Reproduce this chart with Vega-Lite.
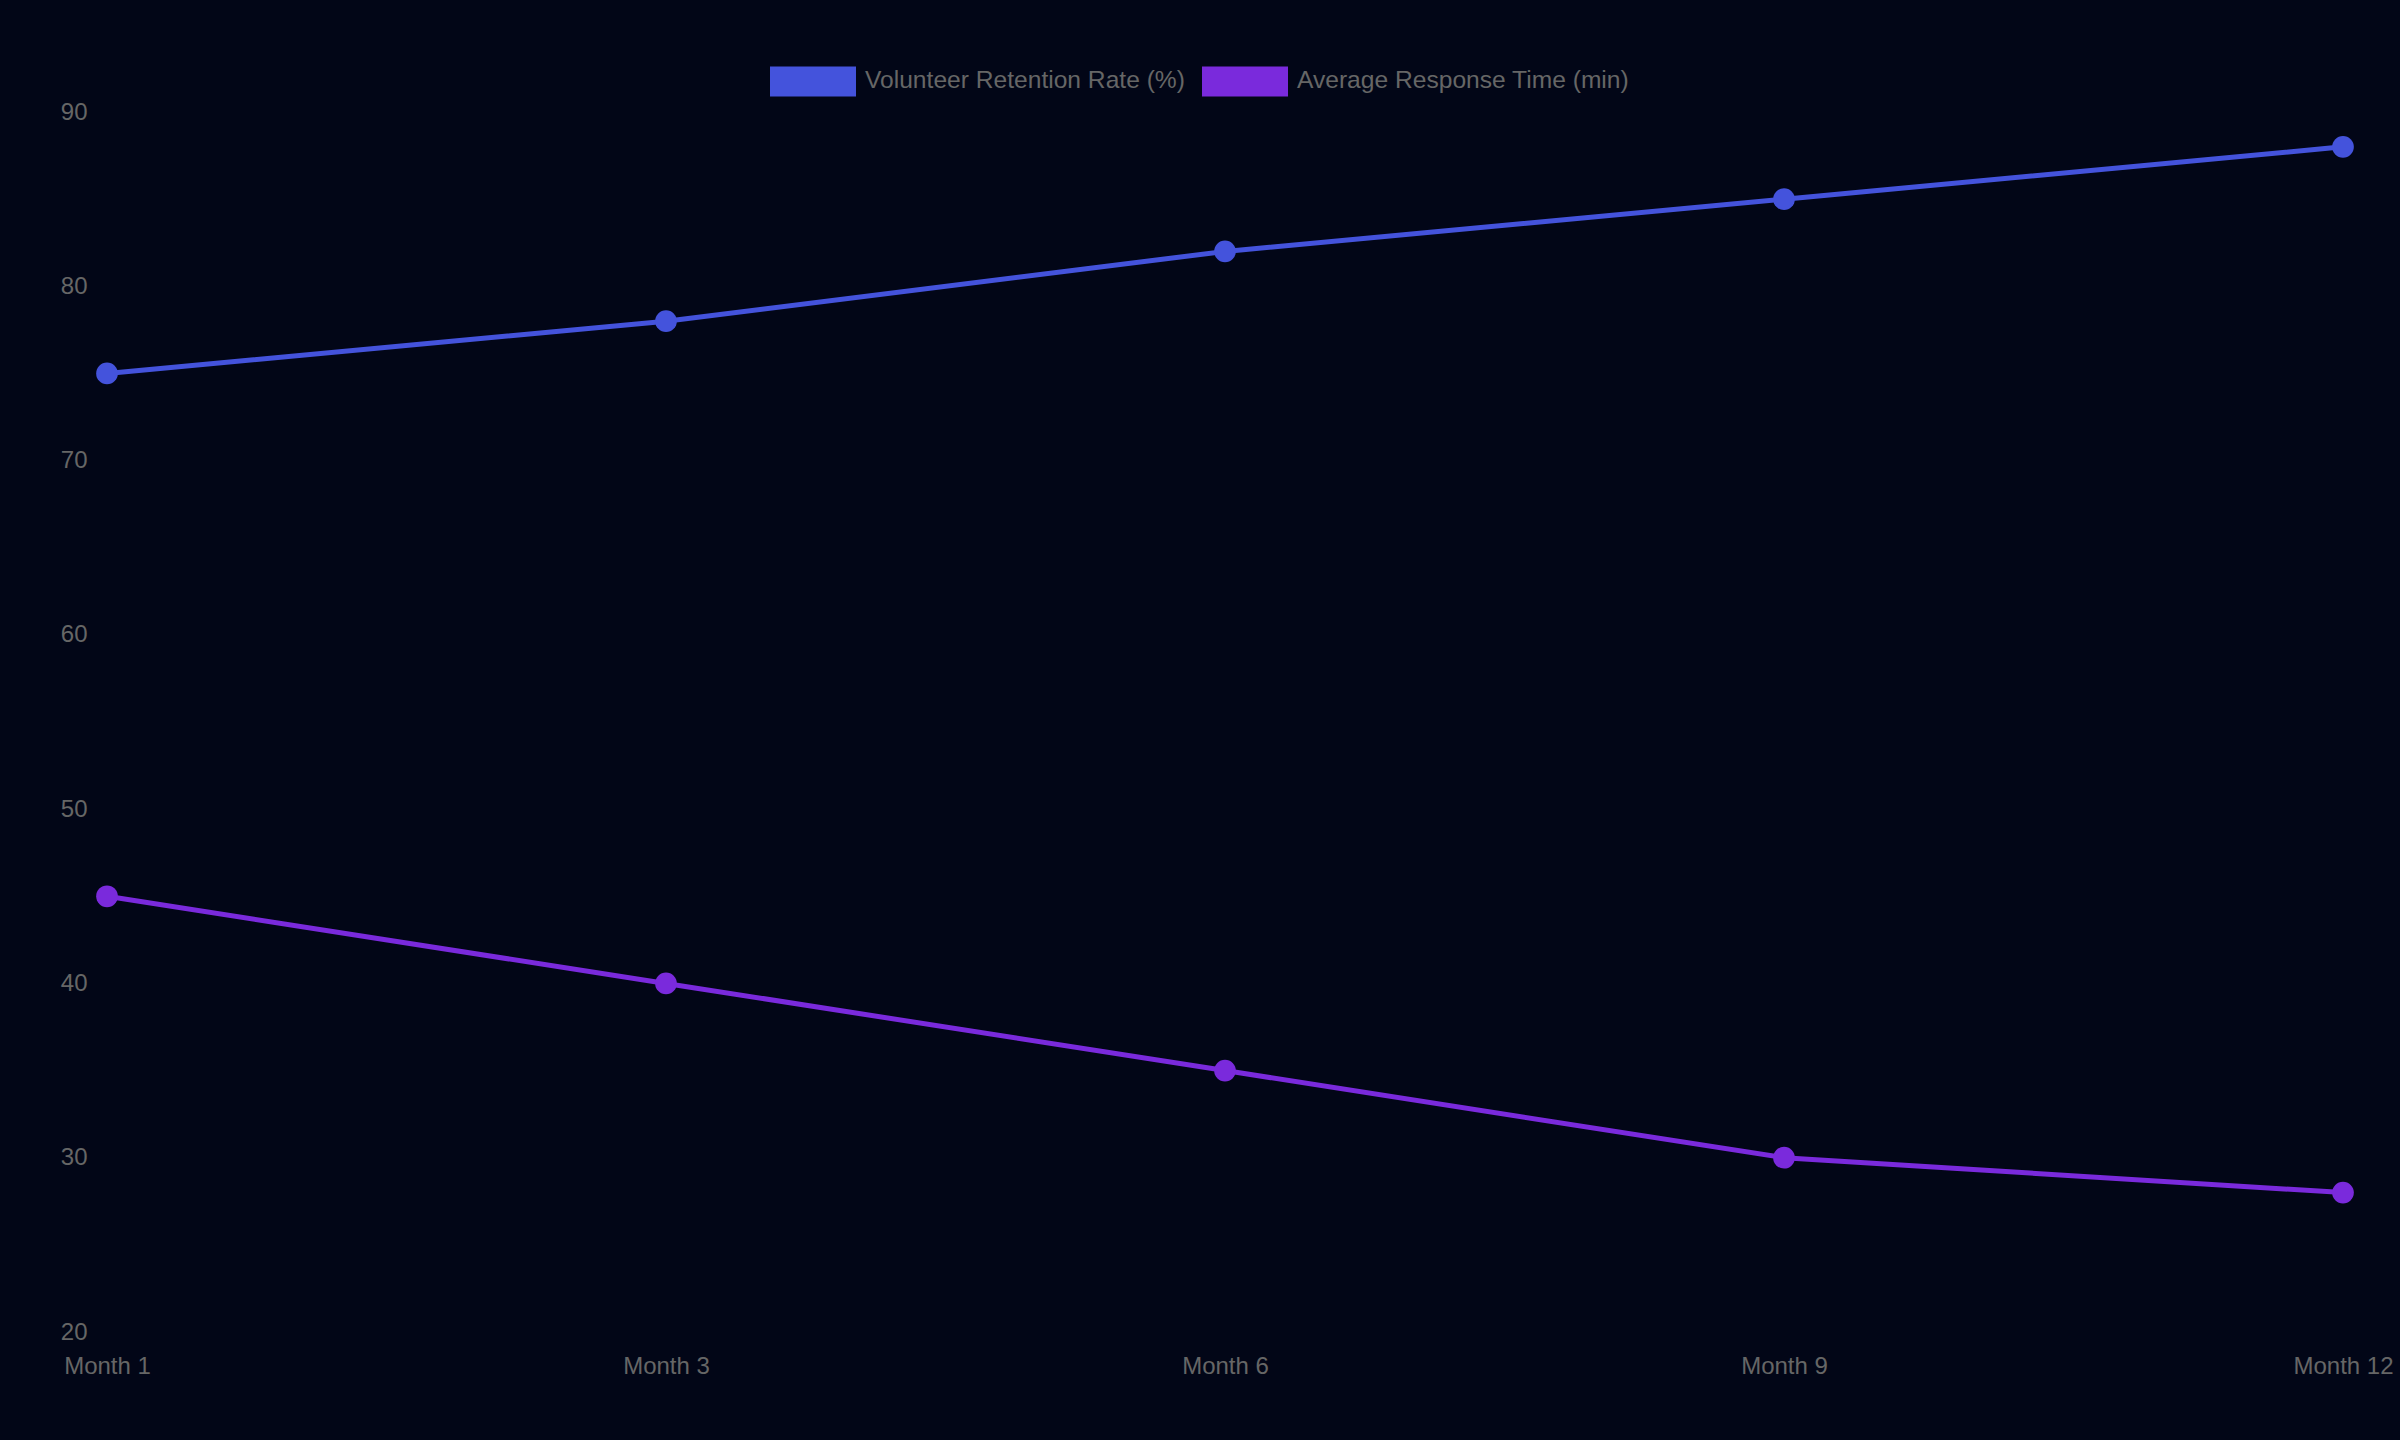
{
  "$schema": "https://vega.github.io/schema/vega-lite/v6.json",
  "width": 2236,
  "height": 1220,
  "autosize": "none",
  "padding": {"left": 107, "top": 112, "right": 57, "bottom": 108},
  "background": "#020617",
  "data": {
    "values": [
      {"month": "Month 1", "series": "Volunteer Retention Rate (%)", "value": 75},
      {"month": "Month 3", "series": "Volunteer Retention Rate (%)", "value": 78},
      {"month": "Month 6", "series": "Volunteer Retention Rate (%)", "value": 82},
      {"month": "Month 9", "series": "Volunteer Retention Rate (%)", "value": 85},
      {"month": "Month 12", "series": "Volunteer Retention Rate (%)", "value": 88},
      {"month": "Month 1", "series": "Average Response Time (min)", "value": 45},
      {"month": "Month 3", "series": "Average Response Time (min)", "value": 40},
      {"month": "Month 6", "series": "Average Response Time (min)", "value": 35},
      {"month": "Month 9", "series": "Average Response Time (min)", "value": 30},
      {"month": "Month 12", "series": "Average Response Time (min)", "value": 28}
    ]
  },
  "mark": {
    "type": "line",
    "strokeWidth": 5,
    "point": {"filled": true, "size": 470, "opacity": 1}
  },
  "encoding": {
    "x": {
      "field": "month",
      "type": "ordinal",
      "sort": ["Month 1", "Month 3", "Month 6", "Month 9", "Month 12"],
      "scale": {"type": "point", "padding": 0},
      "axis": {
        "title": null,
        "labelAngle": 0,
        "labelPadding": 22,
        "labelFlush": false,
        "labelOverlap": false
      }
    },
    "y": {
      "field": "value",
      "type": "quantitative",
      "scale": {"domain": [20, 90], "nice": false, "zero": false},
      "axis": {
        "title": null,
        "values": [20, 30, 40, 50, 60, 70, 80, 90],
        "labelPadding": 20,
        "labelFlush": false
      }
    },
    "color": {
      "field": "series",
      "type": "nominal",
      "scale": {
        "domain": ["Volunteer Retention Rate (%)", "Average Response Time (min)"],
        "range": ["#4453DC", "#7A2ADC"]
      },
      "legend": {
        "title": null,
        "orient": "none",
        "direction": "horizontal",
        "legendX": 663,
        "legendY": -74,
        "symbolType": "M-1,-0.349H1V0.349H-1Z",
        "symbolSize": 7396,
        "symbolStrokeWidth": 0,
        "symbolOpacity": 1,
        "labelOffset": 9,
        "columnPadding": 17,
        "padding": 0
      }
    }
  },
  "config": {
    "view": {"stroke": null},
    "font": "Liberation Sans",
    "axis": {
      "grid": false,
      "domain": false,
      "ticks": false,
      "labelFont": "Liberation Sans",
      "labelFontSize": 24,
      "labelColor": "#666666"
    },
    "legend": {
      "labelFont": "Liberation Sans",
      "labelFontSize": 24.6,
      "labelColor": "#666666",
      "labelLimit": 0
    }
  }
}
